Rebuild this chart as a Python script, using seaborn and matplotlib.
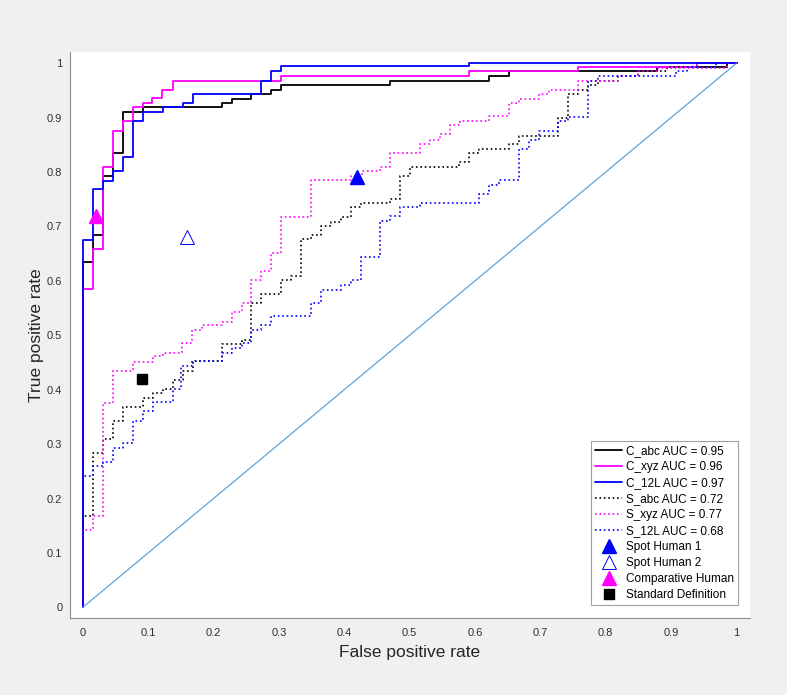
import matplotlib
matplotlib.use("Agg")
import matplotlib.pyplot as plt
import seaborn as sns

# ROC curves: FPR where the TPR jumps, TPR level after the jump
c_abc_fpr = [0, 0.0155, 0.031, 0.046, 0.062, 0.092, 0.2125, 0.228, 0.258, 0.288,
             0.303, 0.47, 0.622, 0.652, 0.879, 0.985]
c_abc_tpr = [0.634, 0.685, 0.793, 0.835, 0.910, 0.919, 0.927, 0.935, 0.943, 0.951,
             0.959, 0.968, 0.977, 0.985, 0.993, 1.0]

c_xyz_fpr = [0, 0.0155, 0.031, 0.046, 0.062, 0.077, 0.092, 0.106, 0.121, 0.138,
             0.303, 0.591, 0.758, 0.94]
c_xyz_tpr = [0.585, 0.659, 0.810, 0.876, 0.893, 0.919, 0.927, 0.936, 0.951, 0.968,
             0.977, 0.985, 0.993, 1.0]

c_12l_fpr = [0, 0.0155, 0.031, 0.046, 0.062, 0.077, 0.092, 0.123, 0.153, 0.169,
             0.273, 0.288, 0.303, 0.591]
c_12l_tpr = [0.675, 0.768, 0.784, 0.801, 0.827, 0.893, 0.910, 0.919, 0.927, 0.943,
             0.968, 0.985, 0.994, 1.0]

s_abc_fpr = [0, 0.0155, 0.031, 0.046, 0.062, 0.092, 0.1075, 0.123, 0.138, 0.153,
             0.169, 0.2125, 0.243, 0.258, 0.273, 0.303, 0.319, 0.334, 0.349, 0.364,
             0.38, 0.395, 0.41, 0.4255, 0.47, 0.485, 0.50, 0.576, 0.591, 0.606,
             0.652, 0.668, 0.727, 0.7425, 0.758, 0.773, 0.788, 0.819, 0.85, 0.893,
             0.985]
s_abc_tpr = [0.167, 0.284, 0.309, 0.343, 0.368, 0.385, 0.394, 0.402, 0.418, 0.435,
             0.452, 0.484, 0.492, 0.559, 0.576, 0.601, 0.609, 0.677, 0.685, 0.701,
             0.709, 0.717, 0.735, 0.743, 0.75, 0.793, 0.81, 0.818, 0.835, 0.843,
             0.851, 0.867, 0.90, 0.943, 0.951, 0.96, 0.968, 0.977, 0.985, 0.993,
             1.0]

s_xyz_fpr = [0, 0.0155, 0.031, 0.046, 0.077, 0.107, 0.123, 0.152, 0.167, 0.182,
             0.2125, 0.228, 0.243, 0.258, 0.273, 0.288, 0.303, 0.349, 0.41, 0.4266,
             0.455, 0.47, 0.516, 0.531, 0.5465, 0.562, 0.577, 0.622, 0.652, 0.668,
             0.698, 0.7135, 0.758, 0.819, 0.85, 0.88, 0.985]
s_xyz_tpr = [0.142, 0.167, 0.375, 0.434, 0.451, 0.461, 0.468, 0.485, 0.510, 0.518,
             0.525, 0.542, 0.559, 0.601, 0.618, 0.651, 0.718, 0.785, 0.793, 0.801,
             0.810, 0.835, 0.851, 0.859, 0.869, 0.887, 0.893, 0.902, 0.927, 0.934,
             0.943, 0.951, 0.968, 0.976, 0.985, 0.991, 1.0]

s_12l_fpr = [0, 0.0155, 0.031, 0.046, 0.062, 0.077, 0.092, 0.1075, 0.138, 0.151,
             0.167, 0.2125, 0.228, 0.243, 0.258, 0.273, 0.288, 0.349, 0.364, 0.395,
             0.41, 0.4255, 0.4546, 0.47, 0.485, 0.516, 0.606, 0.622, 0.637, 0.668,
             0.683, 0.698, 0.727, 0.7425, 0.773, 0.788, 0.908, 0.9235, 0.969]
s_12l_tpr = [0.242, 0.259, 0.267, 0.293, 0.302, 0.343, 0.36, 0.3765, 0.402, 0.443,
             0.452, 0.467, 0.4765, 0.4856, 0.509, 0.519, 0.5346, 0.559, 0.5837, 0.593,
             0.601, 0.643, 0.7105, 0.7185, 0.735, 0.743, 0.76, 0.777, 0.785, 0.843,
             0.859, 0.876, 0.893, 0.901, 0.968, 0.977, 0.985, 0.993, 1.0]

curve_names = ["C_abc", "C_xyz", "C_12L", "S_abc", "S_xyz", "S_12L"]
curve_auc = [0.95, 0.96, 0.97, 0.72, 0.77, 0.68]

# single operating points
point_names = ["Spot Human 1", "Spot Human 2", "Comparative Human", "Standard Definition"]
point_fpr = [0.42, 0.16, 0.02, 0.09]
point_tpr = [0.79, 0.68, 0.72, 0.42]

tick_values = [0, 0.1, 0.2, 0.3, 0.4, 0.5, 0.6, 0.7, 0.8, 0.9, 1]
tick_labels = ["0", "0.1", "0.2", "0.3", "0.4", "0.5", "0.6", "0.7", "0.8", "0.9", "1"]


def staircase(fpr, tpr):
    # turn jump positions into the ROC step path from (0,0) to (1,1)
    xs, ys = [0.0], [0.0]
    for x, y in zip(fpr, tpr):
        xs += [x, x]
        ys += [ys[-1], y]
    xs.append(1.0)
    ys.append(ys[-1])
    return xs, ys


sns.set_theme(style="white")
plt.rcParams["font.family"] = ["Liberation Sans", "DejaVu Sans"]

fig = plt.figure(figsize=(7.87, 6.95), dpi=100, facecolor="#f0f0f0")
ax = fig.add_axes([0.0889, 0.1108, 0.864, 0.8144])
ax.set_facecolor("white")

curves = [(c_abc_fpr, c_abc_tpr), (c_xyz_fpr, c_xyz_tpr), (c_12l_fpr, c_12l_tpr),
          (s_abc_fpr, s_abc_tpr), (s_xyz_fpr, s_xyz_tpr), (s_12l_fpr, s_12l_tpr)]
colors = ["#000000", "#ff00ff", "#0000ff", "#000000", "#ff00ff", "#0000ff"]
styles = ["-", "-", "-", ":", ":", ":"]

for (fpr, tpr), name, auc, col, ls in zip(curves, curve_names, curve_auc, colors, styles):
    xs, ys = staircase(fpr, tpr)
    sns.lineplot(x=xs, y=ys, sort=False, estimator=None, color=col,
                 linestyle=ls, linewidth=1.3 if ls == "-" else 1.2,
                 label=f"{name} AUC = {auc:.2f}", ax=ax)

# chance line
sns.lineplot(x=[0, 1], y=[0, 1], color="#4a9bd6", linewidth=0.8, ax=ax, legend=False)

ax.plot(point_fpr[0], point_tpr[0], "^", color="blue", markersize=10,
        linestyle="none", label=point_names[0])
ax.plot(point_fpr[1], point_tpr[1], "^", markerfacecolor="none", markeredgecolor="blue",
        markeredgewidth=0.7, markersize=10, linestyle="none", label=point_names[1])
ax.plot(point_fpr[2], point_tpr[2], "^", color="#ff00ff", markersize=10,
        linestyle="none", label=point_names[2])
ax.plot(point_fpr[3], point_tpr[3], "s", color="black", markersize=7,
        linestyle="none", label=point_names[3])

ax.set_xlim(-0.0195, 1.0205)
ax.set_ylim(-0.0195, 1.0205)
ax.set_xticks(tick_values)
ax.set_xticklabels(tick_labels)
ax.set_yticks(tick_values)
ax.set_yticklabels(tick_labels)

for side in ["top", "right"]:
    ax.spines[side].set_visible(False)
for side in ["left", "bottom"]:
    ax.spines[side].set_color("#8c8c8c")
    ax.spines[side].set_linewidth(0.8)

ax.tick_params(direction="in", length=5, width=0.6, color="#8c8c8c",
               labelcolor="#303030", labelsize=8)
ax.tick_params(axis="x", pad=7)
ax.tick_params(axis="y", pad=5.5)

ax.set_xlabel("False positive rate", fontsize=12.5, color="#262626", labelpad=5.5)
ax.set_ylabel("True positive rate", fontsize=12.5, color="#262626", labelpad=2)

leg = ax.legend(loc="lower right", bbox_to_anchor=(0.9824, 0.023), borderaxespad=0,
                fontsize=8.5, frameon=True, fancybox=False, framealpha=1,
                edgecolor="#a0a0a0", handlelength=2.3, handletextpad=0.3,
                labelspacing=0.34, borderpad=0.35)
leg.get_frame().set_linewidth(0.8)
for t in leg.get_texts():
    t.set_color("#000000")

fig.savefig("out.png", dpi=100, facecolor=fig.get_facecolor())
